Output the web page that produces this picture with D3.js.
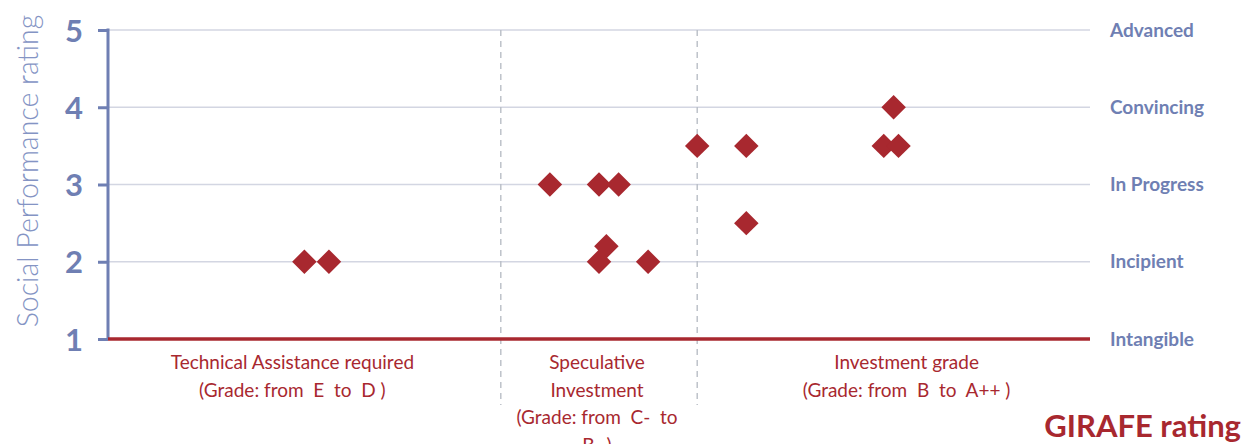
<!DOCTYPE html>
<html>
<head>
<meta charset="utf-8">
<script src="https://cdn.jsdelivr.net/npm/d3@7"></script>
<style>
  body { margin: 0; background: #fff; }
  svg { display: block; font-family: Lato, "Open Sans", sans-serif; }
  text { white-space: pre; }
</style>
</head>
<body>
<div id="wrapper"></div>
<script>
// points: x = position along GIRAFE grade scale, y = social performance rating
const pointX = [8, 9, 18, 20, 20.8, 20.3, 20, 22, 24, 26, 26, 31.6, 32.2, 32];
const pointY = [2, 2, 3, 3, 3, 2.2, 2, 2, 3.5, 3.5, 2.5, 3.5, 3.5, 4];

const yTicks = [1, 2, 3, 4, 5];
const levelLabels = ["Intangible", "Incipient", "In Progress", "Convincing", "Advanced"];

// grade zones along x
const zoneBounds = [0, 16, 24, 40];
const zoneLabels = [
    ["Technical Assistance required", "(Grade: from  E  to  D )"],
    ["Speculative", "Investment", "(Grade: from  C-  to", "B- )"],
    ["Investment grade", "(Grade: from  B  to  A++ )"]
];
const zoneLabelShift = [-12, -2, 13];

function buildPlot() {
    const dimension = {
        width: 1242,
        height: 444,
        margin: { top: 30, left: 108, bottom: 105, right: 152 }
    };
    dimension.boundedWidth = dimension.width - dimension.margin.left - dimension.margin.right;
    dimension.boundedHeight = dimension.height - dimension.margin.top - dimension.margin.bottom;

    const red = "#a8282f";
    const blue = "#6f7fb3";

    const svg = d3.select("#wrapper").append("svg")
        .attr("width", dimension.width)
        .attr("height", dimension.height);

    const bounded = svg.append("g")
        .attr("transform", `translate(${dimension.margin.left},${dimension.margin.top})`);

    const xScaler = d3.scaleLinear()
        .domain([zoneBounds[0], zoneBounds[zoneBounds.length - 1]])
        .range([0, dimension.boundedWidth]);

    const yScaler = d3.scaleLinear()
        .domain([1, 5])
        .range([dimension.boundedHeight, 0]);

    // horizontal grid
    bounded.append("g")
        .selectAll("line")
        .data(yTicks.slice(1))
        .join("line")
        .attr("x1", 0)
        .attr("x2", dimension.boundedWidth)
        .attr("y1", d => yScaler(d))
        .attr("y2", d => yScaler(d))
        .attr("stroke", "#d3d6e2")
        .attr("stroke-width", 1.3);

    // zone separators
    bounded.append("g")
        .selectAll("line")
        .data(zoneBounds.slice(1, -1))
        .join("line")
        .attr("x1", d => xScaler(d))
        .attr("x2", d => xScaler(d))
        .attr("y1", 0)
        .attr("y2", 375)
        .attr("stroke", "#b9bec6")
        .attr("stroke-width", 1.4)
        .attr("stroke-dasharray", "6 5");

    // y axis
    const yAxisGroup = bounded.append("g")
        .call(d3.axisLeft(yScaler).tickValues(yTicks).tickSize(10).tickPadding(15).tickFormat(d3.format("d")));
    yAxisGroup.select(".domain").remove();
    yAxisGroup.selectAll(".tick line").attr("stroke", blue).attr("stroke-width", 3);
    yAxisGroup.selectAll(".tick text")
        .attr("fill", blue)
        .attr("font-size", 31)
        .attr("font-weight", "bold")
        .attr("font-family", "Lato, sans-serif")
        .attr("dy", "0.36em");
    bounded.append("line")
        .attr("x1", 0).attr("x2", 0)
        .attr("y1", -1.5).attr("y2", dimension.boundedHeight)
        .attr("stroke", blue)
        .attr("stroke-width", 3);

    // x baseline
    bounded.append("line")
        .attr("x1", 0)
        .attr("x2", dimension.boundedWidth)
        .attr("y1", dimension.boundedHeight)
        .attr("y2", dimension.boundedHeight)
        .attr("stroke", red)
        .attr("stroke-width", 3.5);

    // right-side level labels
    bounded.append("g")
        .selectAll("text")
        .data(yTicks)
        .join("text")
        .attr("x", dimension.boundedWidth + 20)
        .attr("y", d => yScaler(d))
        .attr("dy", "0.35em")
        .attr("fill", blue)
        .attr("font-size", 19)
        .attr("font-weight", "bold")
        .text((d, i) => levelLabels[i]);

    // zone labels under the axis
    const zoneGroups = bounded.append("g")
        .selectAll("text")
        .data(zoneLabels)
        .join("text")
        .attr("text-anchor", "middle")
        .attr("fill", red)
        .attr("font-size", 19)
        .attr("transform", (d, i) => {
            const cx = (xScaler(zoneBounds[i]) + xScaler(zoneBounds[i + 1])) / 2 + zoneLabelShift[i];
            return `translate(${cx},${dimension.boundedHeight + 30})`;
        });
    zoneGroups.selectAll("tspan")
        .data(d => d)
        .join("tspan")
        .attr("x", 0)
        .attr("y", (d, i) => i * 27.5)
        .text(d => d);

    // points
    const diamond = d3.symbol().type(d3.symbolSquare).size(300);
    bounded.append("g")
        .selectAll("path")
        .data(pointX.map((x, i) => [x, pointY[i]]))
        .join("path")
        .attr("d", diamond)
        .attr("transform", d => `translate(${xScaler(d[0])},${yScaler(d[1])}) rotate(45)`)
        .attr("fill", red);

    // axis titles
    svg.append("text")
        .attr("transform", `translate(38,${171}) rotate(-90)`)
        .attr("text-anchor", "middle")
        .attr("fill", "#8494c4")
        .attr("font-size", 28.5)
        .attr("font-weight", 300)
        .text("Social Performance rating");

    svg.append("text")
        .attr("x", 1241)
        .attr("y", 437)
        .attr("text-anchor", "end")
        .attr("fill", red)
        .attr("font-size", 31)
        .attr("font-weight", "bold")
        .text("GIRAFE rating");
}

buildPlot();
</script>
</body>
</html>
